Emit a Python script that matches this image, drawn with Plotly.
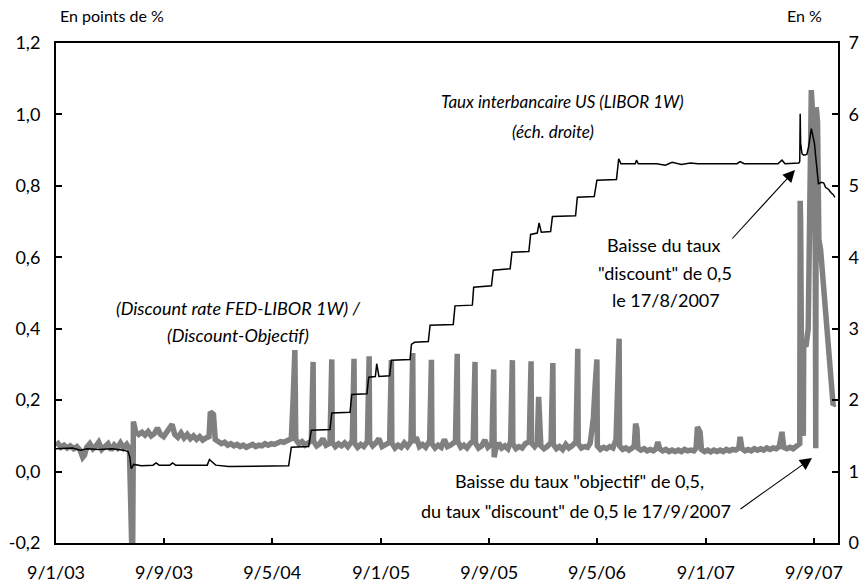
import plotly.graph_objects as go

# ---------------- data ----------------
gray_dates = [
    "2003-01-09", "2003-01-14", "2003-01-20", "2003-01-27", "2003-02-03", "2003-02-10", "2003-02-18",
    "2003-02-25", "2003-03-04", "2003-03-10", "2003-03-14", "2003-03-19", "2003-03-26", "2003-04-02",
    "2003-04-09", "2003-04-15", "2003-04-22", "2003-04-29", "2003-05-06", "2003-05-13", "2003-05-20",
    "2003-05-27", "2003-06-03", "2003-06-10", "2003-06-17", "2003-06-23", "2003-06-25", "2003-06-30",
    "2003-07-02", "2003-07-07", "2003-07-14", "2003-07-21", "2003-07-28", "2003-08-04", "2003-08-11",
    "2003-08-18", "2003-08-25", "2003-09-01", "2003-09-08", "2003-09-15", "2003-09-22", "2003-09-27",
    "2003-10-03", "2003-10-10", "2003-10-17", "2003-10-24", "2003-10-31", "2003-11-07", "2003-11-14",
    "2003-11-21", "2003-11-28", "2003-12-05", "2003-12-12", "2003-12-19", "2003-12-22", "2003-12-29",
    "2004-01-02", "2004-01-09", "2004-01-16", "2004-01-23", "2004-01-30", "2004-02-06", "2004-02-13",
    "2004-02-20", "2004-02-27", "2004-03-05", "2004-03-12", "2004-03-19", "2004-03-26", "2004-04-02",
    "2004-04-09", "2004-04-16", "2004-04-23", "2004-04-30", "2004-05-07", "2004-05-14", "2004-05-21",
    "2004-05-28", "2004-06-04", "2004-06-11", "2004-06-21", "2004-06-25", "2004-06-27", "2004-06-29",
    "2004-07-01", "2004-07-08", "2004-07-15", "2004-07-22", "2004-07-29", "2004-08-05", "2004-08-07",
    "2004-08-08", "2004-08-09", "2004-08-10", "2004-08-17", "2004-08-24", "2004-08-31", "2004-09-07",
    "2004-09-16", "2004-09-18", "2004-09-19", "2004-09-20", "2004-09-21", "2004-09-28", "2004-10-05",
    "2004-10-12", "2004-10-19", "2004-10-26", "2004-11-05", "2004-11-07", "2004-11-08", "2004-11-09",
    "2004-11-10", "2004-11-17", "2004-11-24", "2004-12-01", "2004-12-09", "2004-12-11", "2004-12-12",
    "2004-12-13", "2004-12-14", "2004-12-21", "2004-12-28", "2005-01-04", "2005-01-11", "2005-01-18",
    "2005-01-28", "2005-01-30", "2005-01-31", "2005-02-01", "2005-02-02", "2005-02-09", "2005-02-16",
    "2005-02-23", "2005-03-02", "2005-03-09", "2005-03-17", "2005-03-19", "2005-03-20", "2005-03-21",
    "2005-03-22", "2005-03-29", "2005-04-05", "2005-04-12", "2005-04-19", "2005-04-28", "2005-04-30",
    "2005-05-01", "2005-05-02", "2005-05-03", "2005-05-10", "2005-05-17", "2005-05-24", "2005-05-31",
    "2005-06-07", "2005-06-14", "2005-06-25", "2005-06-27", "2005-06-28", "2005-06-29", "2005-06-30",
    "2005-07-07", "2005-07-14", "2005-07-21", "2005-07-28", "2005-08-04", "2005-08-06", "2005-08-07",
    "2005-08-08", "2005-08-09", "2005-08-16", "2005-08-23", "2005-08-30", "2005-09-06", "2005-09-15",
    "2005-09-17", "2005-09-18", "2005-09-19", "2005-09-20", "2005-09-23", "2005-09-30", "2005-10-07",
    "2005-10-14", "2005-10-21", "2005-10-27", "2005-10-29", "2005-10-30", "2005-10-31", "2005-11-01",
    "2005-11-08", "2005-11-15", "2005-11-22", "2005-11-29", "2005-12-08", "2005-12-10", "2005-12-11",
    "2005-12-12", "2005-12-13", "2005-12-20", "2005-12-26", "2005-12-29", "2006-01-03", "2006-01-10",
    "2006-01-17", "2006-01-26", "2006-01-28", "2006-01-29", "2006-01-30", "2006-01-31", "2006-02-07",
    "2006-02-14", "2006-02-21", "2006-02-28", "2006-03-07", "2006-03-14", "2006-03-23", "2006-03-25",
    "2006-03-26", "2006-03-27", "2006-03-28", "2006-04-04", "2006-04-11", "2006-04-18", "2006-04-24",
    "2006-05-01", "2006-05-05", "2006-05-07", "2006-05-09", "2006-05-10", "2006-05-17", "2006-05-24",
    "2006-05-31", "2006-06-07", "2006-06-14", "2006-06-21", "2006-06-25", "2006-06-28", "2006-06-29",
    "2006-07-06", "2006-07-13", "2006-07-20", "2006-07-27", "2006-08-01", "2006-08-04", "2006-08-07",
    "2006-08-09", "2006-08-16", "2006-08-23", "2006-08-30", "2006-09-06", "2006-09-13", "2006-09-19",
    "2006-09-23", "2006-09-27", "2006-10-04", "2006-10-11", "2006-10-18", "2006-10-25", "2006-11-01",
    "2006-11-08", "2006-11-15", "2006-11-22", "2006-11-29", "2006-12-06", "2006-12-13", "2006-12-18",
    "2006-12-21", "2006-12-27", "2006-12-30", "2007-01-06", "2007-01-13", "2007-01-20", "2007-01-27",
    "2007-02-03", "2007-02-10", "2007-02-17", "2007-02-24", "2007-03-03", "2007-03-10", "2007-03-17",
    "2007-03-24", "2007-03-27", "2007-03-31", "2007-04-07", "2007-04-14", "2007-04-21", "2007-04-28",
    "2007-05-05", "2007-05-12", "2007-05-19", "2007-05-26", "2007-06-02", "2007-06-09", "2007-06-16",
    "2007-06-23", "2007-06-29", "2007-07-03", "2007-07-10", "2007-07-17", "2007-07-24", "2007-07-31",
    "2007-08-06", "2007-08-08", "2007-08-09", "2007-08-10", "2007-08-13", "2007-08-16", "2007-08-17",
    "2007-08-22", "2007-08-27", "2007-08-31", "2007-09-03", "2007-09-06", "2007-09-09", "2007-09-12",
    "2007-09-13", "2007-09-14", "2007-09-17", "2007-09-20", "2007-09-24", "2007-10-01", "2007-10-08",
    "2007-10-15", "2007-10-22", "2007-10-26",
]
gray_values = [
    0.072, 0.078, 0.068, 0.074, 0.066, 0.072, 0.064,
    0.070, 0.060, 0.040, 0.046, 0.068, 0.078, 0.064,
    0.072, 0.082, 0.062, 0.070, 0.078, 0.060, 0.074,
    0.066, 0.080, 0.066, 0.076, 0.064, -0.30, -0.30,
    0.140, 0.112, 0.104, 0.110, 0.102, 0.112, 0.100,
    0.106, 0.122, 0.104, 0.098, 0.110, 0.118, 0.132,
    0.104, 0.096, 0.108, 0.094, 0.104, 0.092, 0.100,
    0.090, 0.098, 0.088, 0.094, 0.098, 0.167, 0.160,
    0.090, 0.084, 0.078, 0.082, 0.074, 0.078, 0.072,
    0.076, 0.070, 0.074, 0.068, 0.072, 0.076, 0.070,
    0.074, 0.072, 0.078, 0.074, 0.078, 0.076, 0.080,
    0.084, 0.082, 0.088, 0.092, 0.200, 0.320, 0.340,
    0.090, 0.078, 0.084, 0.074, 0.080, 0.086, 0.200,
    0.290, 0.307, 0.085, 0.072, 0.078, 0.092, 0.074,
    0.080, 0.200, 0.300, 0.314, 0.082, 0.070, 0.078,
    0.072, 0.080, 0.070, 0.086, 0.200, 0.300, 0.316,
    0.080, 0.068, 0.076, 0.070, 0.084, 0.210, 0.310,
    0.323, 0.085, 0.072, 0.080, 0.092, 0.070, 0.076,
    0.082, 0.200, 0.300, 0.312, 0.080, 0.066, 0.074,
    0.068, 0.080, 0.070, 0.084, 0.210, 0.320, 0.332,
    0.082, 0.096, 0.070, 0.076, 0.068, 0.086, 0.200,
    0.300, 0.313, 0.078, 0.066, 0.074, 0.068, 0.090,
    0.070, 0.074, 0.084, 0.210, 0.315, 0.330, 0.085,
    0.068, 0.074, 0.066, 0.078, 0.086, 0.200, 0.290,
    0.307, 0.080, 0.066, 0.072, 0.088, 0.068, 0.078,
    0.190, 0.275, 0.286, 0.040, 0.060, 0.080, 0.066,
    0.072, 0.064, 0.084, 0.200, 0.300, 0.312, 0.078,
    0.064, 0.070, 0.066, 0.078, 0.084, 0.200, 0.295,
    0.309, 0.080, 0.070, 0.080, 0.209, 0.072, 0.064,
    0.070, 0.082, 0.200, 0.290, 0.304, 0.076, 0.064,
    0.070, 0.062, 0.076, 0.066, 0.072, 0.084, 0.220,
    0.330, 0.344, 0.078, 0.066, 0.070, 0.068, 0.080,
    0.150, 0.240, 0.300, 0.314, 0.072, 0.062, 0.068,
    0.064, 0.070, 0.066, 0.090, 0.250, 0.372, 0.072,
    0.062, 0.066, 0.060, 0.066, 0.072, 0.134, 0.120,
    0.066, 0.060, 0.064, 0.058, 0.062, 0.058, 0.064,
    0.083, 0.064, 0.058, 0.062, 0.056, 0.060, 0.056,
    0.060, 0.056, 0.062, 0.058, 0.060, 0.058, 0.066,
    0.125, 0.110, 0.062, 0.056, 0.060, 0.055, 0.060,
    0.056, 0.060, 0.056, 0.062, 0.058, 0.062, 0.060,
    0.066, 0.097, 0.064, 0.058, 0.062, 0.058, 0.064,
    0.060, 0.064, 0.060, 0.066, 0.062, 0.066, 0.064,
    0.070, 0.111, 0.068, 0.064, 0.068, 0.064, 0.070,
    0.072, 0.078, 0.758, 0.700, 0.120, 0.100, 0.360,
    0.350, 0.400, 0.900, 1.068, 1.000, 0.900, 0.600,
    0.065, 1.020, 0.980, 0.650, 0.620, 0.520, 0.420,
    0.300, 0.186, 0.190,
]

libor_dates = [
    "2003-01-09", "2003-02-15", "2003-03-05", "2003-03-20", "2003-04-15", "2003-05-15", "2003-06-10",
    "2003-06-20", "2003-06-24", "2003-06-27", "2003-07-03", "2003-07-20", "2003-08-15", "2003-08-22",
    "2003-08-29", "2003-09-22", "2003-09-28", "2003-10-05", "2003-11-15", "2003-12-15", "2003-12-20",
    "2004-01-03", "2004-02-01", "2004-05-01", "2004-06-15", "2004-06-21", "2004-07-30", "2004-08-05",
    "2004-09-16", "2004-09-20", "2004-10-31", "2004-11-04", "2004-12-08", "2004-12-12", "2004-12-27",
    "2004-12-30", "2005-01-04", "2005-01-28", "2005-02-01", "2005-03-15", "2005-03-18", "2005-03-25",
    "2005-04-25", "2005-04-29", "2005-06-20", "2005-06-24", "2005-08-02", "2005-08-05", "2005-09-14",
    "2005-09-18", "2005-10-26", "2005-10-30", "2005-12-07", "2005-12-11", "2005-12-26", "2005-12-30",
    "2006-01-04", "2006-01-25", "2006-01-29", "2006-03-22", "2006-03-26", "2006-05-03", "2006-05-06",
    "2006-05-09", "2006-06-22", "2006-06-27", "2006-07-02", "2006-08-03", "2006-08-06", "2006-08-10",
    "2006-09-20", "2006-10-10", "2006-10-25", "2006-11-15", "2006-12-05", "2006-12-22", "2007-01-15",
    "2007-03-20", "2007-03-27", "2007-04-05", "2007-06-20", "2007-06-29", "2007-07-06", "2007-08-06",
    "2007-08-08", "2007-08-09", "2007-08-10", "2007-08-13", "2007-08-17", "2007-08-24", "2007-08-28",
    "2007-09-03", "2007-09-06", "2007-09-10", "2007-09-13", "2007-09-15", "2007-09-19", "2007-09-26",
    "2007-10-01", "2007-10-05", "2007-10-12", "2007-10-18", "2007-10-22", "2007-10-26",
]
libor_values = [
    1.32, 1.33, 1.30, 1.32, 1.31, 1.32, 1.30,
    1.28, 1.20, 1.04, 1.10, 1.08, 1.09, 1.12,
    1.09, 1.09, 1.12, 1.09, 1.09, 1.09, 1.17,
    1.09, 1.07, 1.07, 1.08, 1.34, 1.35, 1.58,
    1.59, 1.82, 1.83, 2.08, 2.09, 2.32, 2.33,
    2.51, 2.33, 2.34, 2.56, 2.57, 2.78, 2.81,
    2.82, 3.05, 3.06, 3.32, 3.33, 3.58, 3.60,
    3.82, 3.84, 4.07, 4.08, 4.32, 4.34, 4.48,
    4.35, 4.36, 4.57, 4.58, 4.84, 4.85, 4.95,
    5.08, 5.09, 5.38, 5.31, 5.31, 5.36, 5.31,
    5.31, 5.29, 5.33, 5.30, 5.32, 5.31, 5.31,
    5.31, 5.34, 5.31, 5.31, 5.36, 5.31, 5.32,
    5.34, 6.01, 5.60, 5.45, 5.43, 5.44, 5.55,
    5.80, 5.72, 5.60, 5.40, 5.26, 5.03, 5.05,
    5.04, 4.98, 4.95, 4.90, 4.88, 4.84,
]

x_tick_dates = ["2003-01-09", "2003-09-09", "2004-05-09", "2005-01-09",
                "2005-09-09", "2006-05-09", "2007-01-09", "2007-09-09"]
x_tick_labels = ["9/1/03", "9/9/03", "9/5/04", "9/1/05", "9/9/05", "9/5/06", "9/1/07", "9/9/07"]
x_range = ["2003-01-09", "2007-11-02"]

y_left_ticks = [-0.2, 0.0, 0.2, 0.4, 0.6, 0.8, 1.0, 1.2]
y_left_labels = ["-0,2", "0,0", "0,2", "0,4", "0,6", "0,8", "1,0", "1,2"]
y_right_ticks = [0, 1, 2, 3, 4, 5, 6, 7]
y_right_labels = ["0", "1", "2", "3", "4", "5", "6", "7"]

# ---------------- figure ----------------
FONT = "Lato"
W, H = 866, 585
ML, MR, MT, MB = 56, 28, 43, 42
PW, PH = W - ML - MR, H - MT - MB


def px(xp):
    return (xp - ML) / PW


def py(yp):
    return (H - MB - yp) / PH


fig = go.Figure()
fig.add_trace(go.Scatter(x=gray_dates, y=gray_values, mode="lines",
                         line=dict(color="#808080", width=5.5),
                         yaxis="y", showlegend=False, hoverinfo="skip"))
fig.add_trace(go.Scatter(x=libor_dates, y=libor_values, mode="lines",
                         line=dict(color="#000000", width=1.5),
                         yaxis="y2", showlegend=False, hoverinfo="skip"))

axis_common = dict(showgrid=False, zeroline=False, showline=True, linecolor="black",
                   linewidth=2, ticks="inside", tickcolor="black", tickwidth=1.5,
                   automargin=False,
                   tickfont=dict(family=FONT, size=18, color="#000000"))

fig.update_layout(
    width=W, height=H,
    margin=dict(l=ML, r=MR, t=MT, b=MB, pad=0, autoexpand=False),
    paper_bgcolor="white", plot_bgcolor="white",
    font=dict(family=FONT, color="#000000"),
    xaxis=dict(axis_common, type="date", range=x_range, tickvals=x_tick_dates,
               ticktext=x_tick_labels, ticklen=5, mirror=True, ticklabelstandoff=12),
    yaxis=dict(axis_common, range=[-0.2, 1.2], tickvals=y_left_ticks, ticktext=y_left_labels,
               ticklen=6, ticklabelstandoff=10),
    yaxis2=dict(axis_common, range=[0, 7], tickvals=y_right_ticks, ticktext=y_right_labels,
                ticklen=6, overlaying="y", side="right", ticklabelstandoff=5),
)

texts = [
    ("En points de %", 58, 16, "left", 16),
    ("En %", 824, 16, "right", 16),
    ("<i>Taux interbancaire US (LIBOR 1W)</i>", 562, 101, "center", 17),
    ("<i>(éch. droite)</i>", 553, 131, "center", 17),
    ("<i>(Discount rate FED-LIBOR 1W) /</i>", 238, 308, "center", 18),
    ("<i>(Discount-Objectif)</i>", 238, 335, "center", 18),
    ("Baisse du taux", 664, 245, "center", 18),
    ("\"discount\" de 0,5", 665, 273, "center", 18),
    ("le 17/8/2007", 666, 300, "center", 18),
    ("Baisse du taux \"objectif\" de 0,5,", 579, 481, "center", 18),
    ("du taux \"discount\" de 0,5 le 17/9/2007", 576, 511, "center", 18),
]
for t, xp, yp, anchor, size in texts:
    fig.add_annotation(text=t, xref="paper", yref="paper", x=px(xp), y=py(yp),
                       xanchor=anchor, yanchor="middle", showarrow=False,
                       font=dict(family=FONT, size=size, color="#000000"))

arrows = [((795, 170), (731, 240)), ((812, 458), (739, 510))]
for (tx, ty), (sx, sy) in arrows:
    fig.add_annotation(text="", xref="paper", yref="paper", x=px(tx), y=py(ty),
                       ax=sx - tx, ay=sy - ty, axref="pixel", ayref="pixel",
                       showarrow=True, arrowhead=2, arrowsize=2.2, arrowwidth=1.1,
                       arrowcolor="#000000", standoff=0, startstandoff=0)

fig.write_html("out.html",
               config={"displayModeBar": False},
               post_script="document.body.style.margin='0px';"
                           "document.body.style.overflow='hidden';")
